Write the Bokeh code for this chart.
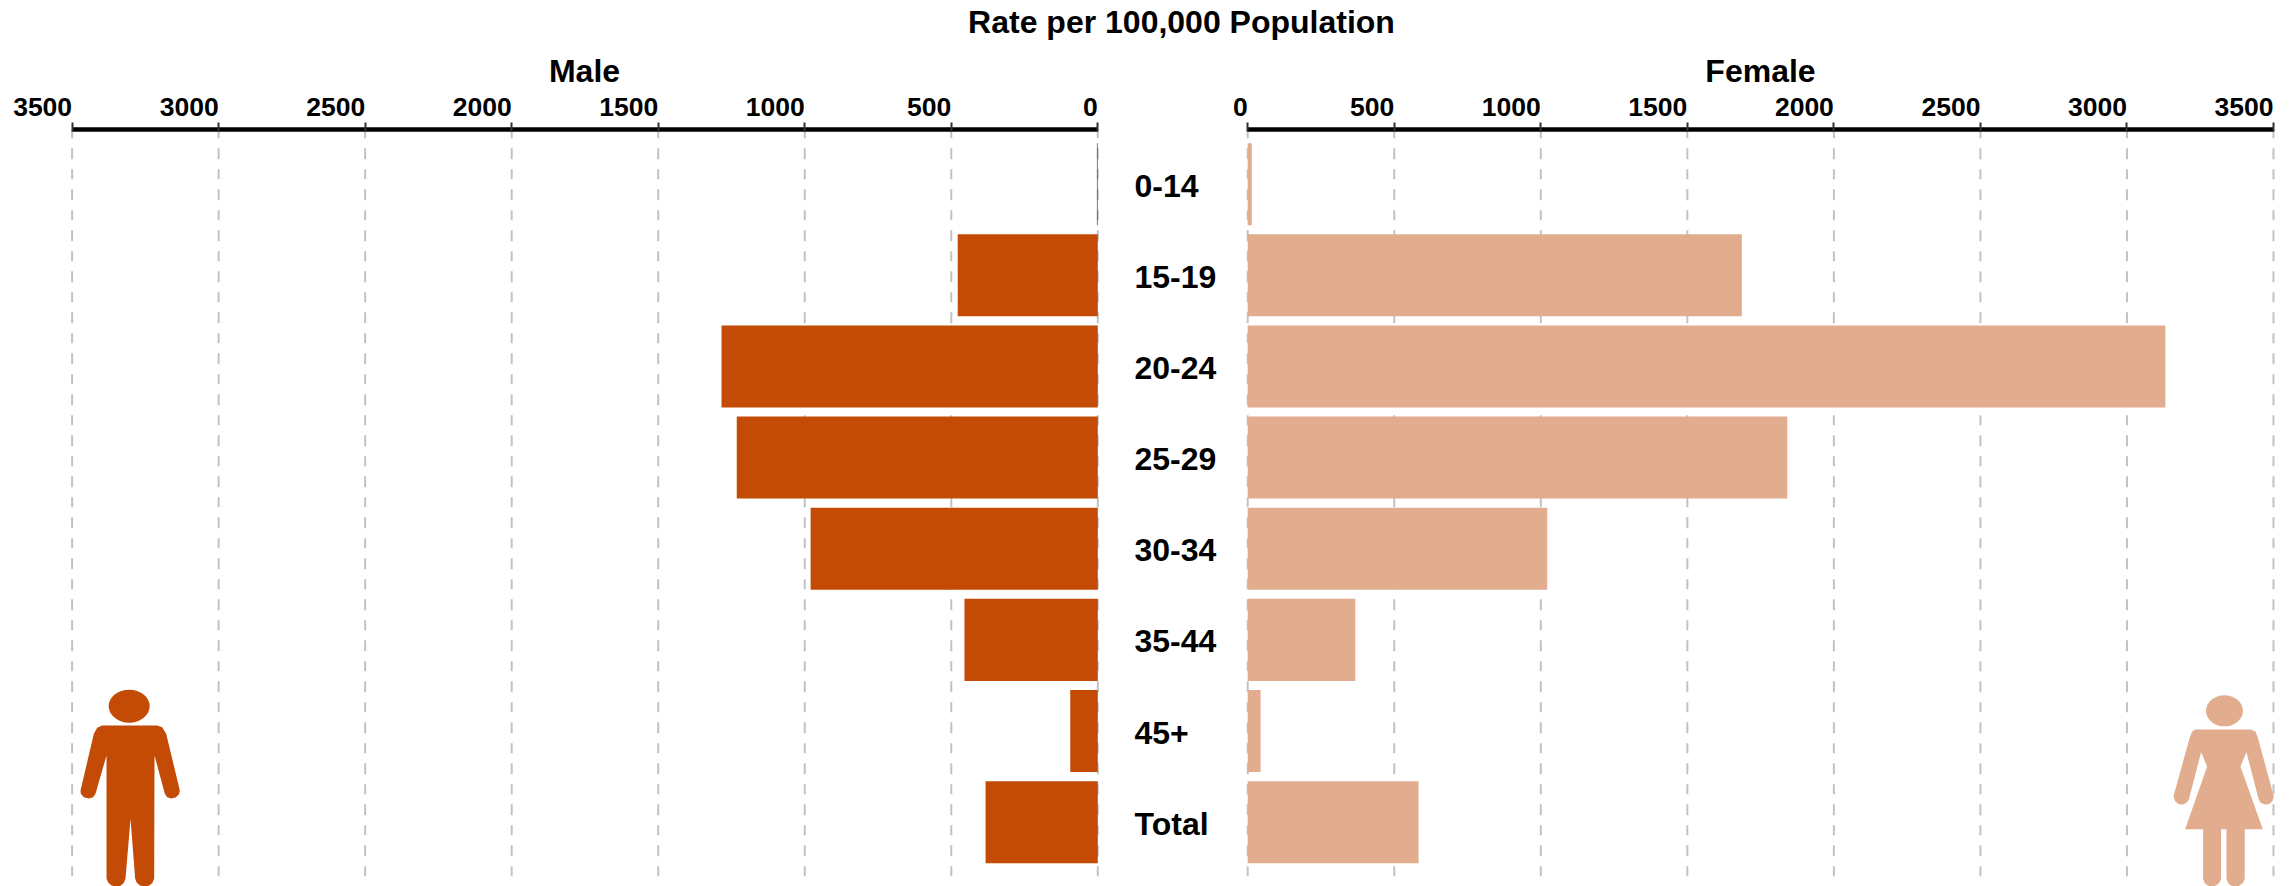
from bokeh.core.properties import value
from bokeh.embed import file_html
from bokeh.layouts import column, row
from bokeh.models import ColumnDataSource, FixedTicker, Range1d
from bokeh.plotting import figure
from bokeh.resources import INLINE

# Rates per 100,000 population by age group
age_groups = ["0-14", "15-19", "20-24", "25-29", "30-34", "35-44", "45+", "Total"]
male_rates = [3, 478, 1284, 1232, 980, 455, 94, 383]
female_rates = [14, 1686, 3131, 1841, 1022, 367, 44, 583]
axis_ticks = [0, 500, 1000, 1500, 2000, 2500, 3000, 3500]

MALE_COLOR = "#C44B06"
FEMALE_COLOR = "#E2AD8F"
GRID_COLOR = "#C2C2C2"
FONT = "Liberation Sans"

FRAME_TOP_ROWS = -0.600
FRAME_BOTTOM_ROWS = 7.706
GRID_END_ROWS = 7.61
BAR_HEIGHT = 0.9

# Pictogram outlines, in pixels relative to each icon's own origin
MALE_OUTLINE = [
    (155, 165), (320, 165), (335, 170), (347, 190), (388, 360), (385, 372), (375, 381),
    (362, 384), (350, 380), (343, 370), (312, 255), (311, 625), (305, 638), (295, 646),
    (282, 648), (268, 645), (258, 635), (254, 625), (240, 445), (225, 625), (220, 637),
    (210, 646), (197, 648), (183, 645), (173, 636), (168, 625), (168, 255), (135, 370),
    (128, 380), (115, 384), (100, 380), (91, 370), (90, 360), (130, 190), (140, 172),
]
FEMALE_OUTLINE = [
    (135, 177), (300, 177), (315, 183), (322, 200), (370, 378), (366, 392), (355, 401),
    (342, 402), (330, 396), (325, 388), (288, 245), (270, 288), (337, 476), (283, 476),
    (283, 625), (277, 638), (266, 646), (255, 648), (243, 646), (233, 638), (228, 625),
    (228, 476), (212, 476), (212, 625), (206, 638), (195, 646), (185, 648), (173, 646),
    (163, 638), (158, 625), (158, 476), (104, 476), (170, 288), (152, 245), (115, 388),
    (109, 396), (98, 402), (85, 401), (74, 392), (69, 378), (118, 200), (125, 183),
]


def rows_from_px(py):
    """Convert a page y pixel to the fractional row used on the y range."""
    return (py - 183.7) / 91.14


def side_figure(width, x_range, label, border_left, border_right):
    p = figure(
        width=width, height=842, x_range=x_range,
        y_range=Range1d(FRAME_BOTTOM_ROWS, FRAME_TOP_ROWS),
        x_axis_location="above", y_axis_location=None,
        toolbar_location=None, output_backend="svg",
        min_border_left=border_left, min_border_right=border_right,
        min_border_top=85, min_border_bottom=0, outline_line_color=None,
    )
    p.grid.visible = False
    ax = p.xaxis[0]
    ax.ticker = FixedTicker(ticks=axis_ticks)
    ax.bounds = (0, 3500)
    ax.axis_label = label
    ax.axis_label_text_font = FONT
    ax.axis_label_text_font_style = "bold"
    ax.axis_label_text_font_size = "32px"
    ax.axis_label_text_color = "black"
    ax.axis_label_standoff = -3
    ax.major_label_text_font = FONT
    ax.major_label_text_font_style = "bold"
    ax.major_label_text_font_size = "26.5px"
    ax.major_label_text_color = "black"
    # A tiny negative angle selects end-anchored tick labels on a top axis
    ax.major_label_orientation = -0.0001
    ax.major_label_standoff = 15
    ax.axis_line_color = "black"
    ax.axis_line_width = 4.5
    ax.major_tick_line_color = "#333333"
    ax.major_tick_line_width = 2
    ax.major_tick_out = 7
    ax.major_tick_in = 2
    ax.minor_tick_line_color = None
    p.segment(
        x0=axis_ticks, x1=axis_ticks,
        y0=[rows_from_px(127.8)] * len(axis_ticks), y1=[GRID_END_ROWS] * len(axis_ticks),
        line_color=GRID_COLOR, line_width=2, line_dash="10 10 11 10",
    )
    return p


rows = list(range(len(age_groups)))

# Male panel: rates grow leftwards from the centre
male_scale = 0.29306
male = side_figure(1108, Range1d(3539.6, -36.5), "Male", 60, 0)
male.hbar(y=rows, left=male_rates, right=[0] * len(rows), height=BAR_HEIGHT,
          fill_color=MALE_COLOR, line_color=None)

# Female panel: rates grow rightwards from the centre
female_scale = 0.2931
female = side_figure(1073, Range1d(-24.6, 3523.9), "Female", 20, 13)
female.hbar(y=rows, left=[0] * len(rows), right=female_rates, height=BAR_HEIGHT,
            fill_color=FEMALE_COLOR, line_color=None)

# Pictograms placed in the lower outer corners of each panel
male_xs = [(1097.3 - (50 + x / 3)) / male_scale for x, _ in MALE_OUTLINE]
male_ys = [rows_from_px(670 + y / 3) for _, y in MALE_OUTLINE]
male.patch(male_xs, male_ys, fill_color=MALE_COLOR, line_color=None)
male.ellipse(x=[(1097.3 - (50 + 236 / 3)) / male_scale], y=[rows_from_px(670 + 107 / 3)],
             width=41, height=33, width_units="screen", height_units="screen",
             fill_color=MALE_COLOR, line_color=None)

female_xs = [((2150 + x / 3) - 1247.2) / female_scale for x, _ in FEMALE_OUTLINE]
female_ys = [rows_from_px(670 + y / 3) for _, y in FEMALE_OUTLINE]
female.patch(female_xs, female_ys, fill_color=FEMALE_COLOR, line_color=None)
female.ellipse(x=[((2150 + 222 / 3) - 1247.2) / female_scale], y=[rows_from_px(670 + 121 / 3)],
               width=37, height=31, width_units="screen", height_units="screen",
               fill_color=FEMALE_COLOR, line_color=None)

# Age-group labels in the gutter between the panels
gutter = figure(
    width=112, height=842, x_range=Range1d(0, 112),
    y_range=Range1d(FRAME_BOTTOM_ROWS, FRAME_TOP_ROWS),
    x_axis_location=None, y_axis_location=None,
    toolbar_location=None, output_backend="svg",
    min_border_left=0, min_border_right=0, min_border_top=85, min_border_bottom=0,
    outline_line_color=None,
)
gutter.grid.visible = False
gutter.text(
    x="x", y="y", text="label",
    source=ColumnDataSource(dict(x=[26] * len(rows), y=rows, label=age_groups)),
    text_font=value(FONT), text_font_style="bold", text_font_size="32px",
    text_color="black", text_align="left", text_baseline="middle", y_offset=1.5,
)

# Shared heading across both panels
heading = figure(
    width=2293, height=44, x_range=Range1d(0, 2293), y_range=Range1d(0, 44),
    x_axis_location=None, y_axis_location=None,
    toolbar_location=None, output_backend="svg",
    min_border=0, outline_line_color=None,
)
heading.grid.visible = False
heading.text(
    x=[1181], y=[23], text=["Rate per 100,000 Population"],
    text_font=value(FONT), text_font_style="bold", text_font_size="32px",
    text_color="black", text_align="center", text_baseline="middle",
)

page = column(heading, row(male, gutter, female, spacing=0), spacing=0)
open("out.html", "w").write(file_html(page, INLINE))
